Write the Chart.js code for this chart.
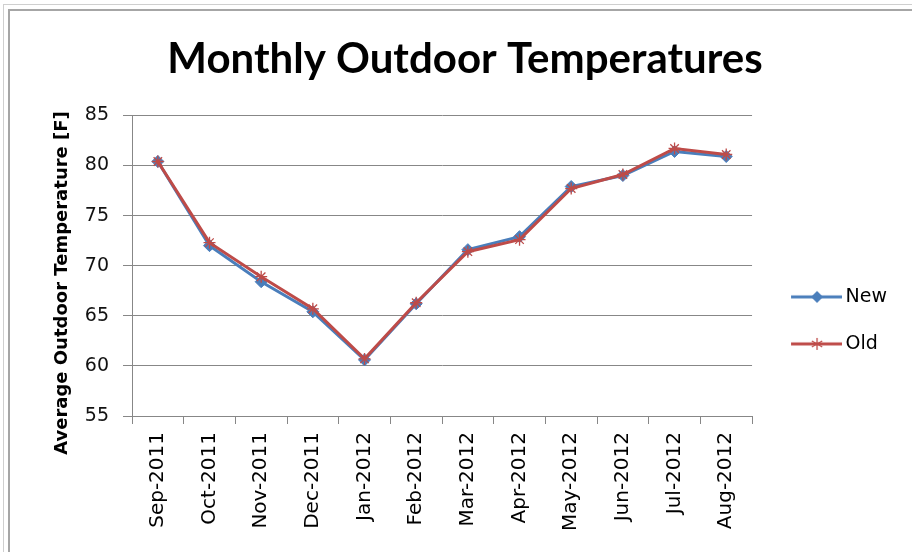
<!DOCTYPE html>
<html>
<head>
<meta charset="utf-8">
<script src="https://cdn.jsdelivr.net/npm/chart.js@4.4.1/dist/chart.umd.min.js"></script>
<style>
  html, body { margin: 0; padding: 0; background: #fff; }
  #wrap { position: relative; width: 912px; height: 552px; overflow: hidden; }
  .frame1 { position: absolute; left: 3px; top: 4px; width: 1000px; height: 1000px; border: 1px solid #cfcfcf; }
  .frame2 { position: absolute; left: 8px; top: 9px; width: 1000px; height: 1000px; border-top: 2px solid #a6a6a6; border-left: 2px solid #a6a6a6; }
  canvas { position: absolute; left: 0; top: 0; }
</style>
</head>
<body>
<div id="wrap">
  <div class="frame1"></div>
  <div class="frame2"></div>
  <canvas id="tempChart" width="912" height="552"></canvas>
</div>
<script>
// chart data
const months = ["Sep-2011", "Oct-2011", "Nov-2011", "Dec-2011", "Jan-2012", "Feb-2012",
                "Mar-2012", "Apr-2012", "May-2012", "Jun-2012", "Jul-2012", "Aug-2012"];
const newTemps = [80.4, 72.0, 68.4, 65.4, 60.6, 66.2, 71.6, 72.9, 77.9, 79.0, 81.4, 80.9];
const oldTemps = [80.4, 72.3, 68.9, 65.7, 60.7, 66.3, 71.4, 72.6, 77.7, 79.1, 81.7, 81.1];
const chartTitle = "Monthly Outdoor Temperatures";
const yTitle = "Average Outdoor Temperature [F]";

const BLUE = "#4a7ebb";
const RED = "#be4b48";
const GRID = "#878787";

// legend marker: short line with the point symbol on it
function legendMarker(color, kind) {
    const c = document.createElement("canvas");
    c.width = 68; c.height = 16;
    const g = c.getContext("2d");
    g.strokeStyle = color;
    g.lineWidth = 3;
    g.beginPath(); g.moveTo(17, 8); g.lineTo(68, 8); g.stroke();
    const cx = 43, cy = 8;
    if (kind === "diamond") {
        g.fillStyle = color;
        g.beginPath();
        g.moveTo(cx, cy - 6); g.lineTo(cx + 6, cy); g.lineTo(cx, cy + 6); g.lineTo(cx - 6, cy);
        g.closePath(); g.fill();
    } else {
        g.lineWidth = 1.3;
        g.beginPath();
        for (let a = 0; a < 3; a++) {
            const ang = Math.PI / 2 + a * Math.PI / 3;
            g.moveTo(cx - 6 * Math.cos(ang), cy - 6 * Math.sin(ang));
            g.lineTo(cx + 6 * Math.cos(ang), cy + 6 * Math.sin(ang));
        }
        g.stroke();
    }
    return c;
}
const markers = [legendMarker(BLUE, "diamond"), legendMarker(RED, "star")];

// rotated y axis title (drawn without the squeeze chart.js applies)
const yTitlePlugin = {
    id: "yTitle",
    afterDraw(chart) {
        const ctx = chart.ctx;
        ctx.save();
        ctx.translate(62, 283);
        ctx.rotate(-Math.PI / 2);
        ctx.font = "bold 18px 'DejaVu Sans'";
        ctx.fillStyle = "#000";
        ctx.textAlign = "center";
        ctx.textBaseline = "middle";
        ctx.fillText(yTitle, 0, 0);
        ctx.restore();
    }
};

const ctx = document.getElementById("tempChart").getContext("2d");
new Chart(ctx, {
    type: "line",
    data: {
        labels: months,
        datasets: [
            {
                label: "New",
                data: newTemps,
                borderColor: BLUE,
                backgroundColor: BLUE,
                borderWidth: 3,
                pointStyle: "rectRot",
                pointRadius: 6,
                pointBorderWidth: 1,
                tension: 0,
                order: 1
            },
            {
                label: "Old",
                data: oldTemps,
                borderColor: RED,
                backgroundColor: RED,
                borderWidth: 3,
                pointStyle: "star",
                pointRadius: 6,
                pointBorderWidth: 1.3,
                tension: 0,
                order: 0
            }
        ]
    },
    options: {
        responsive: false,
        animation: false,
        layout: { padding: { left: 33, right: 15, top: 0, bottom: 0 } },
        plugins: {
            title: {
                display: true,
                text: chartTitle,
                color: "#000",
                font: { family: "Lato", size: 42, weight: "bold" },
                padding: { top: 34, bottom: 31 }
            },
            legend: {
                position: "right",
                align: "start",
                title: { display: true, text: "", padding: { top: 245, bottom: 0 } },
                labels: {
                    usePointStyle: true,
                    pointStyleWidth: 56,
                    padding: 28,
                    color: "#000",
                    font: { family: "DejaVu Sans", size: 19 },
                    generateLabels: (chart) => chart.data.datasets.map((ds, i) => ({
                        text: ds.label,
                        pointStyle: markers[i],
                        fillStyle: ds.borderColor,
                        strokeStyle: ds.borderColor,
                        fontColor: "#000",
                        lineWidth: 0,
                        datasetIndex: i,
                        hidden: false
                    }))
                }
            },
            tooltip: { enabled: false }
        },
        scales: {
            x: {
                offset: true,
                grid: { display: true, offset: true, drawOnChartArea: false, drawTicks: true, tickLength: 8, color: GRID },
                border: { display: true, color: GRID, width: 1 },
                ticks: {
                    minRotation: 90, maxRotation: 90, autoSkip: false, padding: 8,
                    color: "#000",
                    font: { family: "DejaVu Sans", size: 20 }
                },
                afterFit: (scale) => { scale.height = 136; }
            },
            y: {
                min: 55, max: 85,
                grid: { color: GRID, lineWidth: 1, drawTicks: true, tickLength: 9 },
                border: { display: true, color: GRID, width: 1 },
                ticks: {
                    stepSize: 5, padding: 14,
                    color: "#111",
                    font: { family: "DejaVu Sans", size: 19 }
                },
                afterFit: (scale) => { scale.width = 99; }
            }
        }
    },
    plugins: [yTitlePlugin]
});
</script>
</body>
</html>
